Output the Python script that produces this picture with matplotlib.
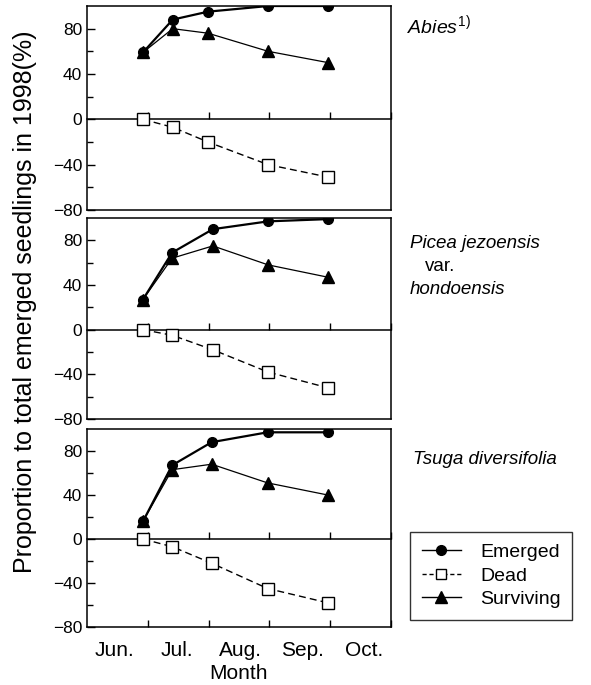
import matplotlib.pyplot as plt

plt.rcParams['font.family'] = ['Liberation Sans', 'DejaVu Sans']
plt.rcParams['mathtext.fontset'] = 'custom'
plt.rcParams['mathtext.rm'] = 'Liberation Sans'
plt.rcParams['mathtext.it'] = 'Liberation Sans:italic'

# survey dates in months since 1 June (0 = Jun 1, 1 = Jul 1, ...)
dates_abies = [0.92, 1.41, 1.99, 2.98, 3.97]
dates_picea = [0.92, 1.40, 2.07, 2.98, 3.96]
dates_tsuga = [0.92, 1.40, 2.05, 2.97, 3.96]

# Abies
abies_emerged = [59, 88, 95, 100, 100]
abies_dead = [0, -7, -20, -40, -51]
abies_surviving = [59, 80, 76, 60, 50]

# Picea jezoensis var. hondoensis
picea_emerged = [27, 69, 90, 97, 99]
picea_dead = [0, -5, -18, -38, -52]
picea_surviving = [27, 64, 75, 58, 47]

# Tsuga diversifolia
tsuga_emerged = [16, 67, 88, 97, 97]
tsuga_dead = [0, -7, -22, -45, -58]
tsuga_surviving = [16, 63, 68, 51, 40]

month_names = ['Jun.', 'Jul.', 'Aug.', 'Sep.', 'Oct.']
month_bounds = [1, 2, 3, 4, 5]
month_label_pos = [0.46, 1.48, 2.53, 3.54, 4.56]

panels = [
    (dates_abies, abies_emerged, abies_dead, abies_surviving),
    (dates_picea, picea_emerged, picea_dead, picea_surviving),
    (dates_tsuga, tsuga_emerged, tsuga_dead, tsuga_surviving),
]

W, H = 591, 685
fig = plt.figure(figsize=(W / 100, H / 100), dpi=100)

# axes boxes in pixels: (top, bottom)
boxes = [(6, 210), (218, 419), (429, 627)]
left, right = 87, 391
ymin, ymax = -80, 100

axes = []
for i, ((top, bot), (x, em, de, su)) in enumerate(zip(boxes, panels)):
    ax = fig.add_axes([left / W, 1 - bot / H, (right - left) / W, (bot - top) / H])
    axes.append(ax)
    ax.plot(x, su, color='black', lw=0.9, marker='^', ms=8, zorder=3)
    ax.plot(x, em, color='black', lw=1.6, marker='o', ms=7, zorder=4)
    ax.plot(x, de, color='black', lw=1.0, ls=(0, (5, 3)), marker='s', ms=8,
            mfc='white', mec='black', mew=1.0, zorder=3)
    ax.set_xlim(0, 5)
    ax.set_ylim(ymin, ymax)
    ax.set_yticks([-80, -40, 0, 40, 80])
    ax.set_yticks([-60, -20, 20, 60], minor=True)
    ax.tick_params(axis='y', which='major', direction='in', length=6, width=1, labelsize=12.5)
    ax.tick_params(axis='y', which='minor', direction='in', length=4.5, width=1)
    for sp in ax.spines.values():
        sp.set_linewidth(1.1)

    # zero line with month ticks pointing up
    sec = ax.secondary_xaxis((0 - ymin) / (ymax - ymin))
    sec.set_alignment('bottom')
    sec.set_xticks(month_bounds)
    sec.set_xticklabels([])
    sec.tick_params(direction='in', length=5, width=1)
    for sp in sec.spines.values():
        sp.set_linewidth(1.1)

    if i < 2:
        ax.set_xticks([])
    else:
        ax.set_xticks(month_bounds)
        ax.set_xticklabels([])
        ax.tick_params(axis='x', which='major', direction='in', length=5, width=1)
        ax.set_xticks(month_label_pos, minor=True)
        ax.set_xticklabels(month_names, minor=True, fontsize=15)
        ax.tick_params(axis='x', which='minor', length=0, pad=10)
        ax.set_xlabel('Month', fontsize=15, labelpad=3)

fig.text(25 / W, 1 - 302 / H, 'Proportion to total emerged seedlings in 1998(%)',
         rotation=90, ha='center', va='center', fontsize=18)

fig.text(407 / W, 1 - 25 / H, r'$\it{Abies}^{1)}$', fontsize=14, ha='left', va='center')
fig.text(410 / W, 1 - 244 / H, 'Picea jezoensis', fontsize=13.5, style='italic', ha='left', va='center')
fig.text(425 / W, 1 - 267 / H, 'var.', fontsize=13.5, ha='left', va='center')
fig.text(410 / W, 1 - 290 / H, 'hondoensis', fontsize=13.5, style='italic', ha='left', va='center')
fig.text(413 / W, 1 - 460 / H, 'Tsuga diversifolia', fontsize=13.5, style='italic', ha='left', va='center')

h_em, = axes[2].plot([], [], color='black', lw=1.0, marker='o', ms=7)
h_de, = axes[2].plot([], [], color='black', lw=1.0, ls=(0, (3, 2)), marker='s', ms=7,
                     mfc='white', mec='black')
h_su, = axes[2].plot([], [], color='black', lw=1.0, marker='^', ms=8)
leg = fig.legend([h_em, h_de, h_su], ['Emerged', 'Dead', 'Surviving'],
                 loc='upper left', bbox_to_anchor=(410 / W, 1 - 532 / H),
                 fontsize=14, frameon=True, fancybox=False, edgecolor='black',
                 handlelength=2.0, borderpad=0.6, labelspacing=0.3, handletextpad=1.0,
                 borderaxespad=0)
leg.get_frame().set_linewidth(1.0)

fig.savefig('out.png', dpi=100)
